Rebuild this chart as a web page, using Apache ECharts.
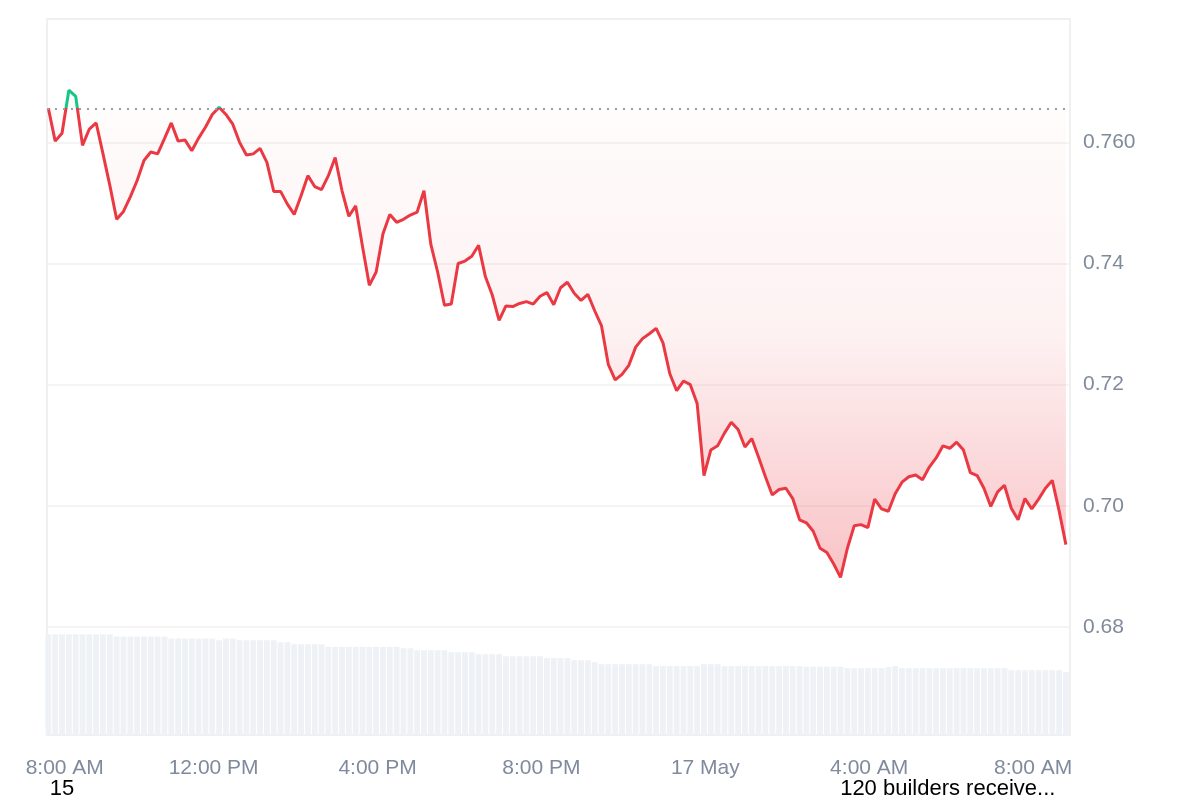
<!DOCTYPE html>
<html><head><meta charset="utf-8">
<script src="https://cdn.jsdelivr.net/npm/echarts@6/dist/echarts.min.js"></script>
<style>html,body{margin:0;padding:0;background:#fff}#chart{width:1200px;height:800px}</style>
</head><body><div id="chart"></div>
<script>
// time in minutes after 16 May 00:00
const startMinute = 478;
const stepMinutes = 10;
const baselinePrice = 0.7656;

const prices = [
  0.7656, 0.7602, 0.7615, 0.7686, 0.7676, 0.7595, 0.7622, 0.7632, 0.7581, 0.7529,
  0.7473, 0.7486, 0.7510, 0.7537, 0.7570, 0.7584, 0.7581, 0.7606, 0.7632, 0.7602,
  0.7604, 0.7586, 0.7607, 0.7625, 0.7646, 0.7658, 0.7646, 0.7630, 0.7600, 0.7579,
  0.7581, 0.7590, 0.7567, 0.7519, 0.7519, 0.7498, 0.7481, 0.7512, 0.7545, 0.7527,
  0.7522, 0.7545, 0.7575, 0.7520, 0.7478, 0.7495, 0.7428, 0.7364, 0.7386, 0.7449,
  0.7481, 0.7468, 0.7473, 0.7480, 0.7485, 0.7520, 0.7432, 0.7386, 0.7331, 0.7333,
  0.7400, 0.7404, 0.7412, 0.7430, 0.7378, 0.7348, 0.7306, 0.7330, 0.7329, 0.7334,
  0.7337, 0.7333, 0.7346, 0.7352, 0.7332, 0.7360, 0.7369, 0.7351, 0.7339, 0.7349,
  0.7322, 0.7297, 0.7233, 0.7208, 0.7217, 0.7232, 0.7262, 0.7276, 0.7284, 0.7293,
  0.7269, 0.7218, 0.7190, 0.7206, 0.7200, 0.7169, 0.7050, 0.7092, 0.7099, 0.7120,
  0.7138, 0.7126, 0.7097, 0.7111, 0.7080, 0.7048, 0.7018, 0.7027, 0.7029, 0.7012,
  0.6977, 0.6972, 0.6958, 0.6930, 0.6923, 0.6904, 0.6882, 0.6930, 0.6967, 0.6969,
  0.6964, 0.7011, 0.6995, 0.6991, 0.7020, 0.7039, 0.7048, 0.7051, 0.7043, 0.7064,
  0.7079, 0.7099, 0.7095, 0.7105, 0.7092, 0.7055, 0.7050, 0.7029, 0.6999, 0.7023,
  0.7034, 0.6996, 0.6977, 0.7012, 0.6995, 0.7011, 0.7029, 0.7042, 0.6992, 0.6936
];

// volume (millions)
const volumes = [
  10.1, 10.1, 10.1, 10.1, 10.1, 10.1, 10.1, 10.1, 10.1, 10.1,
  9.87, 9.87, 9.87, 9.87, 9.87, 9.87, 9.87, 9.87, 9.67, 9.67,
  9.67, 9.67, 9.67, 9.67, 9.67, 9.50, 9.67, 9.67, 9.50, 9.50,
  9.50, 9.50, 9.50, 9.50, 9.30, 9.30, 9.10, 9.10, 9.10, 9.10,
  9.10, 8.85, 8.85, 8.85, 8.85, 8.85, 8.85, 8.85, 8.85, 8.85,
  8.85, 8.85, 8.70, 8.70, 8.50, 8.50, 8.50, 8.50, 8.50, 8.30,
  8.30, 8.30, 8.30, 8.10, 8.10, 8.10, 8.10, 7.90, 7.90, 7.90,
  7.90, 7.90, 7.90, 7.70, 7.70, 7.70, 7.70, 7.50, 7.50, 7.50,
  7.30, 7.10, 7.10, 7.10, 7.10, 7.10, 7.10, 7.10, 7.10, 6.90,
  6.90, 6.90, 6.90, 6.90, 6.90, 6.90, 7.10, 7.10, 7.10, 6.90,
  6.90, 6.90, 6.90, 6.90, 6.90, 6.90, 6.90, 6.90, 6.90, 6.90,
  6.90, 6.85, 6.85, 6.85, 6.85, 6.85, 6.85, 6.70, 6.70, 6.70,
  6.70, 6.70, 6.70, 6.80, 6.90, 6.70, 6.70, 6.70, 6.70, 6.70,
  6.70, 6.70, 6.70, 6.70, 6.70, 6.70, 6.70, 6.70, 6.70, 6.70,
  6.70, 6.50, 6.50, 6.50, 6.50, 6.50, 6.50, 6.50, 6.50, 6.30
];

const xTickValues = [502, 720, 960, 1200, 1440, 1680, 1920];
const xTickLabels = ['8:00 AM', '12:00 PM', '4:00 PM', '8:00 PM', '17 May', '4:00 AM', '8:00 AM'];
const noteValues = [498, 1795];
const noteLabels = ['15', '120 builders receive...'];
const yTickValues = [0.68, 0.70, 0.72, 0.74, 0.76];
const yTickLabels = ['0.68', '0.70', '0.72', '0.74', '0.760'];

const xMin = 476, xMax = 1974;
const yMin = 0.66217, yMax = 0.78036;
const volMax = 71.8;

const times = prices.map((_, i) => startMinute + i * stepMinutes);
const priceData = prices.map((p, i) => [times[i], p]);
const volData = volumes.map((v, i) => [times[i], v]);

function pick(values, labels, v) {
  const i = values.findIndex(t => Math.abs(t - v) < 1e-6);
  return i >= 0 ? labels[i] : '';
}

const FONT = 'Liberation Sans, Arial, sans-serif';
const chart = echarts.init(document.getElementById('chart'));
chart.setOption({
  animation: false,
  backgroundColor: '#ffffff',
  grid: { left: 47, right: 130, top: 19, bottom: 63, show: true, borderColor: '#ececec', borderWidth: 1.5 },
  xAxis: [
    {
      type: 'value', min: xMin, max: xMax, position: 'bottom',
      axisLine: { show: false }, axisTick: { show: false }, splitLine: { show: false },
      axisLabel: {
        customValues: xTickValues,
        formatter: v => pick(xTickValues, xTickLabels, v),
        color: '#808a9d', fontSize: 21, fontFamily: FONT, margin: 23
      }
    },
    {
      type: 'value', min: xMin, max: xMax, position: 'bottom',
      axisLine: { show: false }, axisTick: { show: false }, splitLine: { show: false },
      axisLabel: {
        customValues: noteValues,
        formatter: v => pick(noteValues, noteLabels, v),
        color: '#000000', fontSize: 22, fontFamily: FONT, margin: 43
      }
    }
  ],
  yAxis: [
    {
      type: 'value', min: yMin, max: yMax, position: 'right',
      axisLine: { show: false },
      axisTick: { show: false, customValues: yTickValues },
      splitLine: { show: true, lineStyle: { color: '#f0f0f2', width: 1.5 } },
      axisLabel: {
        customValues: yTickValues,
        formatter: v => pick(yTickValues, yTickLabels, v),
        color: '#808a9d', fontSize: 21, fontFamily: FONT, margin: 13
      }
    },
    { type: 'value', min: 0, max: volMax, show: false, splitLine: { show: false } }
  ],
  visualMap: {
    type: 'piecewise', show: false, seriesIndex: 1, dimension: 1,
    pieces: [
      { gt: 0, lte: baselinePrice, color: '#ea3943' },
      { gt: baselinePrice, lte: 2, color: '#16c784' }
    ],
    outOfRange: { color: '#ea3943' }
  },
  series: [
    {
      type: 'bar', xAxisIndex: 0, yAxisIndex: 1, data: volData,
      barWidth: 5.8, silent: true, z: 1,
      itemStyle: { color: '#eef1f5' }
    },
    {
      type: 'line', xAxisIndex: 0, yAxisIndex: 0, data: priceData,
      showSymbol: false, z: 3,
      lineStyle: { width: 3 },
      areaStyle: {
        origin: baselinePrice, opacity: 1,
        color: new echarts.graphic.LinearGradient(0, 0, 0, 1, [
          { offset: 0, color: 'rgba(234,57,67,0.01)' },
          { offset: 0.5, color: 'rgba(234,57,67,0.07)' },
          { offset: 1, color: 'rgba(234,57,67,0.30)' }
        ])
      },
      markLine: {
        silent: true, symbol: 'none', precision: 6, label: { show: false },
        lineStyle: { color: '#9a9ea6', width: 2, type: [2, 6] },
        data: [{ yAxis: baselinePrice }]
      }
    }
  ]
});
</script>
</body></html>
